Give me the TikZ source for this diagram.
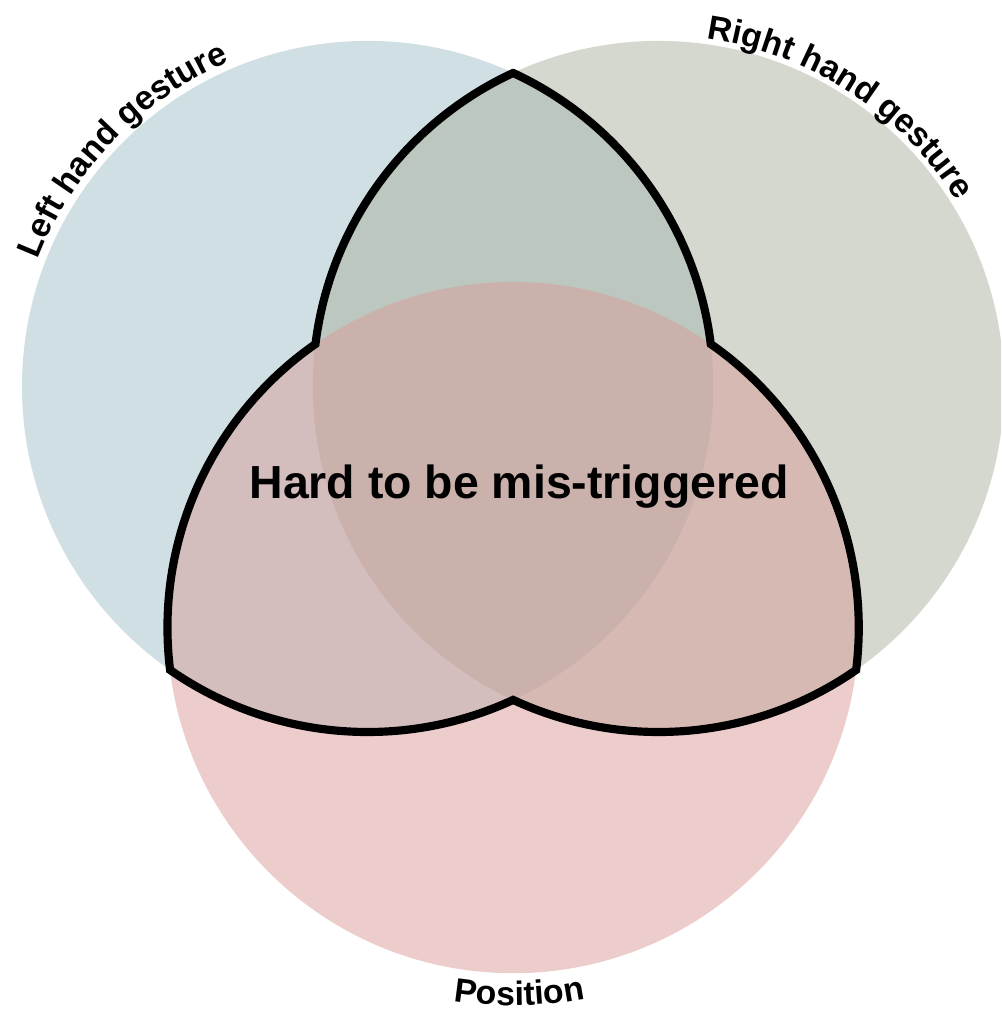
\documentclass[tikz,border=0pt]{standalone}
\usepackage{fontspec}
\setmainfont{Liberation Sans}
\usetikzlibrary{decorations.text}
\definecolor{leftc}{HTML}{A1BFC7}
\definecolor{rightc}{HTML}{A9B19D}
\definecolor{posc}{HTML}{D99B99}
\begin{document}
\begin{tikzpicture}[x=0.025cm,y=0.025cm,
  setfill/.style={fill=#1, fill opacity=0.5},
  outline/.style={draw=black, line width=5.8pt, line join=miter},
  title/.style={font=\bfseries\fontsize{33}{38}\selectfont, inner sep=0pt},
  curvelabel/.style={decorate, decoration={text along path, text align=center,
      text={|\bfseries\fontsize{24}{29}\selectfont|#1}}},
]
\useasboundingbox (0,0) rectangle (1001,1012);
\clip (0,0) rectangle (1001,1012);
\def\r{345.6}
\coordinate (L) at (367.6,625.5);
\coordinate (R) at (658.4,625.5);
\coordinate (P) at (513,384.4);

% the three sets
\fill[setfill=leftc] (L) circle[radius=\r];
\fill[setfill=rightc] (R) circle[radius=\r];
\fill[setfill=posc] (P) circle[radius=\r];

% boundary of the region covered by at least two sets
\coordinate (T) at (513,939);
\draw[outline] (T)
  arc[start angle=114.89, end angle=172.94, radius=\r]
  arc[start angle=124.87, end angle=187.05, radius=\r]
  arc[start angle=235.13, end angle=294.89, radius=\r]
  arc[start angle=245.11, end angle=304.87, radius=\r]
  arc[start angle=-7.05, end angle=55.13, radius=\r]
  arc[start angle=7.06, end angle=65.11, radius=\r] -- cycle;

% set labels following the circles
\path[curvelabel=Left hand gesture] (L) ++(176:353) arc[start angle=176, end angle=96, radius=353];
\path[curvelabel=Right hand gesture] (R) ++(97:351) arc[start angle=97, end angle=17, radius=351];
\path[curvelabel=Position] (P) ++(250:378) arc[start angle=250, end angle=292, radius=378];

\node[title] (core) at (519,525) {Hard to be mis-triggered};
\end{tikzpicture}
\end{document}
